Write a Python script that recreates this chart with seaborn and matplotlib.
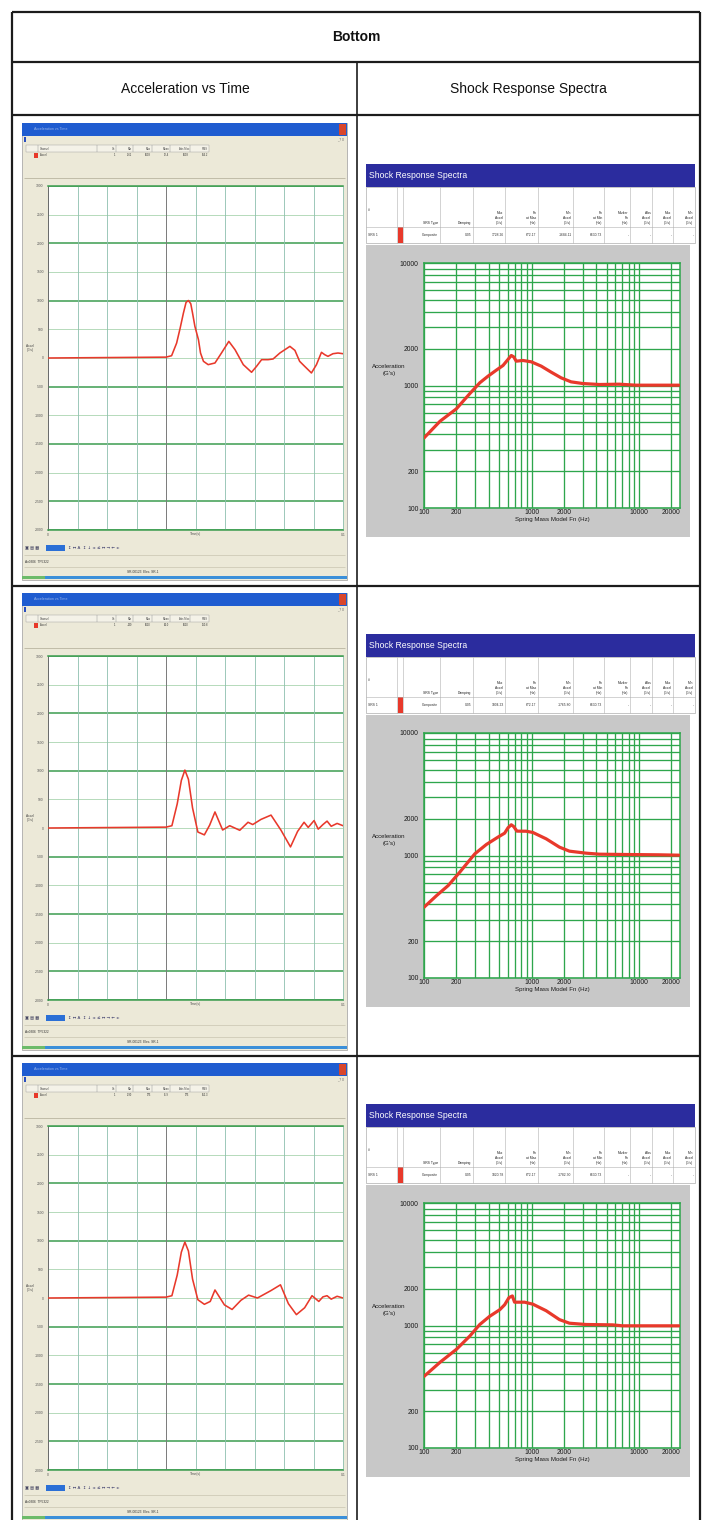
import numpy as np
import pandas as pd
import matplotlib
matplotlib.use("Agg")
import matplotlib.pyplot as plt
import seaborn as sns
from matplotlib.patches import Rectangle
from matplotlib.ticker import FixedLocator, NullLocator

sns.set_theme(style="white")
plt.rcParams['font.family'] = ['Liberation Sans Narrow', 'Liberation Sans', 'DejaVu Sans']

# ---------------- data ----------------
table_title = "Bottom"
column_titles = ["Acceleration vs Time", "Shock Response Spectra"]

# time histories (time in s, acceleration in G)
time_1 = [0, 0.040, 0.0419, 0.0436, 0.0448, 0.0459, 0.0468, 0.0476, 0.0484, 0.049, 0.0498,
          0.051, 0.0517, 0.0527, 0.0543, 0.0566, 0.0588, 0.0613, 0.0634, 0.0662, 0.069, 0.0707,
          0.0724, 0.0746, 0.0763, 0.0786, 0.082, 0.0837, 0.0853, 0.087, 0.0893, 0.091, 0.0927,
          0.0938, 0.0949, 0.0966, 0.0983, 0.1]
accel_1 = [0, 15, 40, 260, 522, 783, 970, 1003, 946, 783, 551,
           319, 87, -58, -116, -87, 87, 290, 145, -116, -249, -145,
           -29, -29, -17, 87, 203, 133, -58, -145, -261, -116, 99,
           58, 29, 75, 87, 75]

time_2 = [0, 0.040, 0.042, 0.0438, 0.0452, 0.0464, 0.0476, 0.049, 0.0508, 0.053, 0.0548,
          0.0566, 0.0592, 0.0616, 0.065, 0.0678, 0.0694, 0.0722, 0.0756, 0.079, 0.0822,
          0.0846, 0.0868, 0.0882, 0.0902, 0.0916, 0.0932, 0.0946, 0.096, 0.098, 0.1]
accel_2 = [0, 15, 40, 420, 830, 1010, 850, 350, -70, -120, 50,
           280, -35, 40, -40, 100, 60, 150, 225, -40, -330,
           -60, 100, 10, 130, -20, 60, 120, 30, 80, 40]

time_3 = [0, 0.040, 0.042, 0.0438, 0.0452, 0.0464, 0.0476, 0.049, 0.0508, 0.053, 0.055,
          0.0566, 0.0598, 0.0624, 0.0654, 0.068, 0.071, 0.0756, 0.0788, 0.0815, 0.0842,
          0.087, 0.0895, 0.0918, 0.0932, 0.0946, 0.096, 0.098, 0.1]
accel_3 = [0, 15, 40, 400, 800, 975, 820, 330, -30, -110, -60,
           140, -120, -200, -40, 50, 0, 130, 230, -100, -290,
           -170, 40, -60, 20, 40, -20, 30, 0]

# shock response spectra (natural frequency in Hz, acceleration in G)
freq_1 = [100, 141, 200, 267, 330, 394, 471, 543, 604, 648, 681, 721, 831, 993, 1230,
          1522, 1883, 2330, 2986, 4262, 6531, 9316, 15300, 23450]
srs_1 = [373, 511, 645, 860, 1052, 1192, 1335, 1457, 1632, 1758, 1715, 1580, 1601, 1561, 1439,
         1285, 1155, 1071, 1038, 1019, 1025, 1006, 1006, 1006]

freq_2 = [100, 131, 168, 215, 297, 380, 487, 562, 604, 648, 681, 731, 893, 1028, 1367,
          1817, 2249, 3208, 4262, 7530, 15300, 23450]
srs_2 = [378, 471, 569, 731, 1032, 1230, 1412, 1522, 1683, 1782, 1726, 1581, 1578, 1542, 1368,
         1170, 1085, 1045, 1025, 1019, 1013, 1006]

freq_3 = [100, 141, 201, 267, 330, 408, 506, 562, 617, 663, 695, 861, 1028, 1367, 1817,
          2249, 3208, 5662, 7015, 15300, 23450]
srs_3 = [384, 501, 641, 821, 1019, 1189, 1345, 1476, 1690, 1742, 1550, 1550, 1493, 1320, 1117,
         1044, 1019, 1012, 994, 994, 994]

time_yticks = [3000, 2500, 2000, 1500, 1000, 500, 0, -500, -1000, -1500, -2000, -2500, -3000]
time_thick = [3000, 2000, 1000, -500, -1500, -2500, -3000]
srs_xticks = [100, 200, 1000, 2000, 10000, 20000]
srs_yticks = [100, 200, 1000, 2000, 10000]

srs_header = ["#", "", "SRS Type", "Damping", "Max\nAccel\n(G's)", "Fn\nat Max\n(Hz)",
              "Min\nAccel\n(G's)", "Fn\nat Min\n(Hz)", "Marker\nFn\n(Hz)", "Abs\nAccel\n(G's)",
              "Max\nAccel\n(G's)", "Min\nAccel\n(G's)"]
srs_rows = [
    ["SRS 1", "", "Composite", "0.05", "1728.26", "672.17", "-1684.11", "6630.73", "-", "-", "-", "-"],
    ["SRS 1", "", "Composite", "0.05", "1804.23", "672.17", "-1765.80", "6630.73", "-", "-", "-", "-"],
    ["SRS 1", "", "Composite", "0.05", "1820.78", "672.17", "-1782.30", "6630.73", "-", "-", "-", "-"],
]
time_table_header = ["Channel", "Ch", "Min", "Max", "Mean", "Abs Max", "RMS"]
time_table_rows = [
    ["Accel", "1", "-261", "1003", "12.4", "1003", "156.2"],
    ["Accel", "1", "-330", "1010", "14.0", "1010", "160.8"],
    ["Accel", "1", "-290", "975", "11.9", "975", "152.3"],
]

times = [time_1, time_2, time_3]
accels = [accel_1, accel_2, accel_3]
freqs = [freq_1, freq_2, freq_3]
srss = [srs_1, srs_2, srs_3]

# ---------------- figure ----------------
W, H = 707, 1520
fig = plt.figure(figsize=(W / 100, H / 100), dpi=100)
fig.patch.set_facecolor("white")

bg = fig.add_axes([0, 0, 1, 1], zorder=0)
bg.set_xlim(0, W)
bg.set_ylim(H, 0)
bg.axis("off")


def px_axes(x, y, w, h, z=2):
    return fig.add_axes([x / W, 1 - (y + h) / H, w / W, h / H], zorder=z)


def box(x, y, w, h, fc, ec="none", lw=0.0, z=1):
    bg.add_patch(Rectangle((x, y), w, h, facecolor=fc, edgecolor=ec, linewidth=lw, zorder=z))


def hline(y, x0, x1, c, lw, z=3):
    bg.plot([x0, x1], [y, y], color=c, lw=lw, zorder=z, solid_capstyle="butt")


def vline(x, y0, y1, c, lw, z=3):
    bg.plot([x, x], [y0, y1], color=c, lw=lw, zorder=z, solid_capstyle="butt")


RED = "#e8392b"
GREEN = "#2ea64c"
BEIGE = "#ece9d8"
XMAX_SRS = 24000

ROW_H = 470
TOP0 = 115

srs_grid_x = [m * 10 ** e for e in (2, 3, 4) for m in range(1, 10) if m * 10 ** e <= XMAX_SRS]
srs_grid_y = [m * 10 ** e for e in (2, 3) for m in range(1, 10)] + [10000]

for r in range(3):
    R = TOP0 + ROW_H * r
    # ----------- time-history window -----------
    box(22, R + 8, 325, 457, BEIGE, ec="#9c9c9c", lw=0.5)
    box(22, R + 8, 325, 13, "#1f5cd0")
    bg.text(34, R + 14.5, "Acceleration vs Time", color="white", alpha=0.55, fontsize=2.6, va="center")
    box(339, R + 9, 7, 11, "#d8452b")
    box(24, R + 22, 2, 5, "#2a4fc0")
    bg.text(344, R + 24.5, "_ ? X", fontsize=2.2, ha="right", va="center", color="#555555")
    # small stats table
    cols_t = [26, 38, 97, 116, 133, 152, 170, 190, 209]
    box(26, R + 30, 183, 7, "#f4f2e8", ec="#9a9a9a", lw=0.3)
    for cx in cols_t[1:-1]:
        vline(cx, R + 30, R + 37, "#8a8a8a", 0.3)
    for k, lab in enumerate(time_table_header):
        x0, x1 = cols_t[k + 1], cols_t[k + 2]
        bg.text(x0 + 2 if k == 0 else x1 - 1, R + 33.5, lab, fontsize=1.9, va="center",
                ha="left" if k == 0 else "right", color="#444444")
    box(34, R + 38, 3.5, 5, RED)
    for k, val in enumerate(time_table_rows[r]):
        x0, x1 = cols_t[k + 1], cols_t[k + 2]
        bg.text(x0 + 2 if k == 0 else x1 - 1, R + 40.5, val, fontsize=1.9, va="center",
                ha="left" if k == 0 else "right", color="#333333")
    hline(R + 63, 24, 345, "#b9b5a0", 0.6)
    # plot
    ax = px_axes(48, R + 71, 295, 344)
    ax.set_facecolor("white")
    sns.lineplot(x=times[r], y=accels[r], ax=ax, color=RED, lw=1.15, estimator=None, sort=False, zorder=5)
    ax.set_xlim(0, 0.1)
    ax.set_ylim(-3000, 3000)
    for v in time_yticks:
        if v in time_thick:
            ax.axhline(v, color="#3c9d50", lw=1.1, zorder=1)
        else:
            ax.axhline(v, color="#a9d4b0", lw=0.6, zorder=1)
    xt = np.linspace(0, 0.1, 11)
    for i, v in enumerate(xt):
        ax.axvline(v, color="#7a7a7a" if i == 4 else "#8dbfae", lw=0.7 if i == 4 else 0.6, zorder=1)
    ax.set_yticks(time_yticks)
    ax.set_yticklabels([str(v) for v in time_yticks], fontsize=2.4, color="#555555")
    ax.set_xticks([0, 0.1])
    ax.set_xticklabels(["0", "0.1"], fontsize=2.4, color="#555555")
    ax.tick_params(length=0, pad=3)
    ax.tick_params(axis="x", pad=2)
    ax.set_xlabel("Time(s)", fontsize=2.4, labelpad=-3.2, color="#555555")
    ax.set_ylabel("")
    for s in ["top", "bottom"]:
        ax.spines[s].set_color("#3c9d50")
        ax.spines[s].set_linewidth(1.1)
    ax.spines["left"].set_color("#6a6a6a")
    ax.spines["left"].set_linewidth(0.7)
    ax.spines["right"].set_color("#8dbfae")
    ax.spines["right"].set_linewidth(0.6)
    bg.text(30, R + 233, "Accel\n(G's)", fontsize=2.3, ha="center", va="center", color="#444444",
            linespacing=1.0)
    # toolbar / status
    box(46, R + 430, 19, 6, "#2b6fd6")
    bg.text(25, R + 433, "\u25a3 \u25a4 \u25a6", fontsize=3, va="center", color="#333355",
            family=["DejaVu Sans"])
    bg.text(68, R + 433, "\u2195 \u2194 A  \u2195 \u2193 \u00b1 \u2264 \u2194 \u2192 \u2190 \u00b1",
            fontsize=3, va="center", color="#333366", family=["DejaVu Sans"])
    hline(R + 440, 24, 345, "#c9c5b0", 0.5)
    bg.text(25, R + 447, "Ax0306  TF5322", fontsize=2.3, va="center", color="#333333")
    hline(R + 452, 24, 345, "#c9c5b0", 0.5)
    bg.text(143, R + 457, "SR-00123  Elec. SR-1", fontsize=2.3, va="center", ha="center",
            color="#333333")
    box(22, R + 461, 325, 2.5, "#3b8fd9")
    box(22, R + 461, 23, 2.5, "#6dbb6a")

    # ----------- SRS window -----------
    S = R + 49
    box(366, S, 329, 23, "#2b2c9e")
    bg.text(369, S + 12, "Shock Response Spectra", color="white", fontsize=6.2, va="center")
    box(366, S + 23, 329, 56, "white", ec="#9a9a9a", lw=0.4)
    cols_s = [366, 397, 403, 440, 473, 505, 538, 573, 604, 630, 652, 673, 695]
    for cx in cols_s[1:-1]:
        vline(cx, S + 23, S + 79, "#b0b0b0", 0.4)
    hline(S + 63, 366, 695, "#b0b0b0", 0.4)
    for k, lab in enumerate(srs_header):
        x0, x1 = cols_s[k], cols_s[k + 1]
        if k == 0:
            bg.text(x0 + 2, S + 46, lab, fontsize=2.4, ha="left", va="center", color="#333333")
        elif lab:
            bg.text(x1 - 1.5, S + 61, lab, fontsize=2.4, ha="right", va="bottom", color="#222222",
                    linespacing=1.25)
    box(397.5, S + 63, 5, 16, RED)
    for k, val in enumerate(srs_rows[r]):
        x0, x1 = cols_s[k], cols_s[k + 1]
        if k == 0:
            bg.text(x0 + 2, S + 71, val, fontsize=2.4, ha="left", va="center", color="#333333")
        elif val:
            bg.text(x1 - 1.5, S + 71, val, fontsize=2.4, ha="right", va="center", color="#333333")
    box(366, S + 81, 324, 292, "#c8c8c8")
    ax2 = px_axes(424, S + 99, 256, 245)
    ax2.set_facecolor("white")
    ax2.grid(False)
    for gx in srs_grid_x:
        ax2.axvline(gx, color=GREEN, lw=0.95, zorder=1)
    for gy in srs_grid_y:
        ax2.axhline(gy, color=GREEN, lw=0.95, zorder=1)
    sns.lineplot(x=freqs[r], y=srss[r], ax=ax2, color=RED, lw=2.3, estimator=None, sort=False, zorder=5)
    ax2.set_xscale("log")
    ax2.set_yscale("log")
    ax2.set_xlim(100, XMAX_SRS)
    ax2.set_ylim(100, 10000)
    ax2.xaxis.set_major_locator(FixedLocator(srs_xticks))
    ax2.yaxis.set_major_locator(FixedLocator(srs_yticks))
    ax2.xaxis.set_minor_locator(NullLocator())
    ax2.yaxis.set_minor_locator(NullLocator())
    ax2.set_xticklabels([str(v) for v in srs_xticks], fontsize=4.9, color="#1a1a1a")
    ax2.set_yticklabels([str(v) for v in srs_yticks], fontsize=4.9, color="#1a1a1a")
    ax2.tick_params(which="both", length=0)
    ax2.tick_params(axis="y", pad=4)
    ax2.tick_params(axis="x", pad=1)
    ax2.set_xlabel("Spring Mass Model Fn (Hz)", fontsize=4.4, labelpad=0.5, color="#1a1a1a")
    ax2.set_ylabel("")
    for s in ax2.spines.values():
        s.set_color(GREEN)
        s.set_linewidth(1.1)
    bg.text(389, S + 206, "Acceleration\n(G's)", fontsize=4.4, ha="center", va="center",
            color="#1a1a1a", linespacing=1.6)

# ---------------- table frame ----------------
TC = "#1c1c1c"
hline(12, 12, 700, TC, 1.6, z=6)
hline(62, 12, 700, TC, 1.6, z=6)
hline(115, 12, 700, TC, 1.6, z=6)
hline(586, 12, 700, TC, 1.6, z=6)
hline(1056, 12, 700, TC, 1.6, z=6)
vline(12, 12, H, TC, 1.6, z=6)
vline(700, 12, H, TC, 1.6, z=6)
vline(357, 62, H, TC, 1.2, z=6)
bg.text(356, 37, table_title, fontsize=10, fontweight="bold", ha="center", va="center", color="#111111")
bg.text(185, 89, column_titles[0], fontsize=10, ha="center", va="center", color="#111111")
bg.text(528, 89, column_titles[1], fontsize=10, ha="center", va="center", color="#111111")

fig.savefig("out.png", dpi=100, facecolor="white")
